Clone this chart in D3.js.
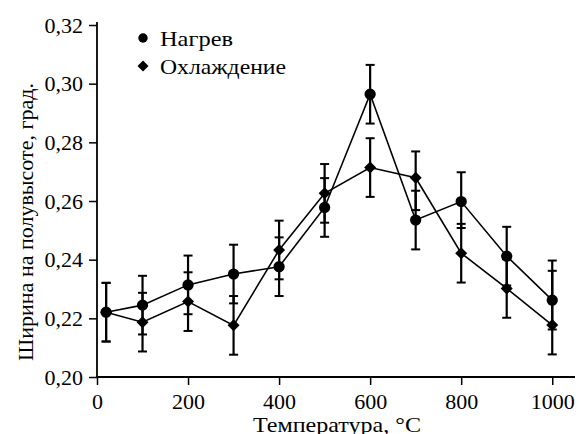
<!DOCTYPE html>
<html><head><meta charset="utf-8">
<script src="https://cdn.jsdelivr.net/npm/d3@7"></script>
<style>body{margin:0;background:#fff}svg{display:block}</style>
</head><body><svg id="c" width="579" height="434"></svg>
<script>
const temps = [20, 100, 200, 300, 400, 500, 600, 700, 800, 900, 1000];
const heating = [0.2221, 0.2245, 0.2314, 0.2351, 0.2376, 0.2578, 0.2964, 0.2535, 0.2598, 0.2412, 0.2262];
const heatingErrUp = [0.010, 0.010, 0.010, 0.010, 0.010, 0.010, 0.010, 0.010, 0.010, 0.010, 0.010];
const heatingErrDown = [0.010, 0.010, 0.010, 0.010, 0.010, 0.010, 0.010, 0.010, 0.009, 0.010, 0.010];
const cooling = [0.2221, 0.2187, 0.2257, 0.2176, 0.2433, 0.2626, 0.2714, 0.2679, 0.2422, 0.2302, 0.2177];
const coolingErrUp = [0.010, 0.010, 0.010, 0.010, 0.010, 0.010, 0.010, 0.009, 0.010, 0.010, 0.022];
const coolingErrDown = [0.010, 0.010, 0.010, 0.010, 0.010, 0.010, 0.010, 0.011, 0.010, 0.010, 0.010];
const xTicks = [0, 200, 400, 600, 800, 1000];
const yTicks = [0.20, 0.22, 0.24, 0.26, 0.28, 0.30, 0.32];
const seriesNames = ["Нагрев", "Охлаждение"];
const xTitle = "Температура, °C";
const yTitle = "Ширина на полувысоте, град.";

const FONT = "'Liberation Serif', 'Times New Roman', 'DejaVu Serif', serif";
const svg = d3.select("#c");
const x = d3.scaleLinear().domain([0, 1050]).range([97, 575]);
const y = d3.scaleLinear().domain([0.20, 0.32]).range([377, 25]);
const fmt = d => d.toFixed(2).replace(".", ",");

const xAxis = svg.append("g").attr("transform", "translate(0,377)")
  .call(d3.axisBottom(x).tickValues(xTicks).tickSize(8).tickPadding(7).tickFormat(d => d));
const yAxis = svg.append("g").attr("transform", "translate(97,0)")
  .call(d3.axisLeft(y).tickValues(yTicks).tickSize(8).tickPadding(4).tickFormat(fmt));
[xAxis, yAxis].forEach(g => {
  g.attr("font-family", null).attr("font-size", null);
  g.select(".domain").remove();
  g.selectAll(".tick line").attr("stroke", "#000").attr("stroke-width", 1.5);
  g.selectAll("text").style("font-family", FONT).style("font-size", "22px").attr("fill", "#000");
});
xAxis.selectAll("text").attr("dy", "0.75em");
yAxis.selectAll("text").attr("x", -14);
svg.append("line").attr("x1", 96.5).attr("x2", 575).attr("y1", 377).attr("y2", 377).attr("stroke", "#000").attr("stroke-width", 1.8);
svg.append("line").attr("x1", 97).attr("x2", 97).attr("y1", 22).attr("y2", 377.9).attr("stroke", "#000").attr("stroke-width", 1.8);

svg.append("text").attr("x", 253).attr("y", 432)
  .attr("textLength", 168).attr("lengthAdjust", "spacingAndGlyphs")
  .style("font-family", FONT).style("font-size", "22px").text(xTitle);
svg.append("text").attr("transform", "translate(33,222) rotate(-90)")
  .attr("text-anchor", "middle").style("font-family", FONT).style("font-size", "22px").text(yTitle);

const series = [
  {vals: heating, up: heatingErrUp, down: heatingErrDown, sym: d3.symbolCircle, size: 100, rot: 0},
  {vals: cooling, up: coolingErrUp, down: coolingErrDown, sym: d3.symbolSquare, size: 72, rot: 45}
];
const line = d3.line().x((d, i) => x(temps[i])).y(d => y(d));
series.forEach(s => {
  svg.append("path").attr("d", line(s.vals)).attr("fill", "none").attr("stroke", "#000").attr("stroke-width", 1.6);
});
series.forEach(s => {
  const g = svg.append("g");
  s.vals.forEach((v, i) => {
    const cx = x(temps[i]), t = y(v + s.up[i]), b = y(v - s.down[i]);
    g.append("line").attr("x1", cx).attr("x2", cx).attr("y1", t).attr("y2", b).attr("stroke", "#000").attr("stroke-width", 2.2);
    [t, b].forEach(yy => g.append("line").attr("x1", cx - 4.5).attr("x2", cx + 4.5).attr("y1", yy).attr("y2", yy).attr("stroke", "#000").attr("stroke-width", 2));
  });
});
series.forEach(s => {
  svg.append("g").selectAll("path").data(s.vals).join("path")
    .attr("transform", (d, i) => `translate(${x(temps[i])},${y(d)}) rotate(${s.rot})`)
    .attr("d", d3.symbol().type(s.sym).size(s.size)).attr("fill", "#000");
});

const legWidths = [73, 126];
const leg = svg.append("g");
seriesNames.forEach((n, i) => {
  const ly = 38 + i * 28;
  leg.append("path").attr("transform", `translate(143,${ly}) rotate(${series[i].rot})`)
    .attr("d", d3.symbol().type(series[i].sym).size(i === 0 ? 70 : 60)).attr("fill", "#000");
  leg.append("text").attr("x", 160).attr("y", ly + 8)
    .attr("textLength", legWidths[i]).attr("lengthAdjust", "spacingAndGlyphs")
    .style("font-family", FONT).style("font-size", "22px").text(n);
});
</script></body></html>
